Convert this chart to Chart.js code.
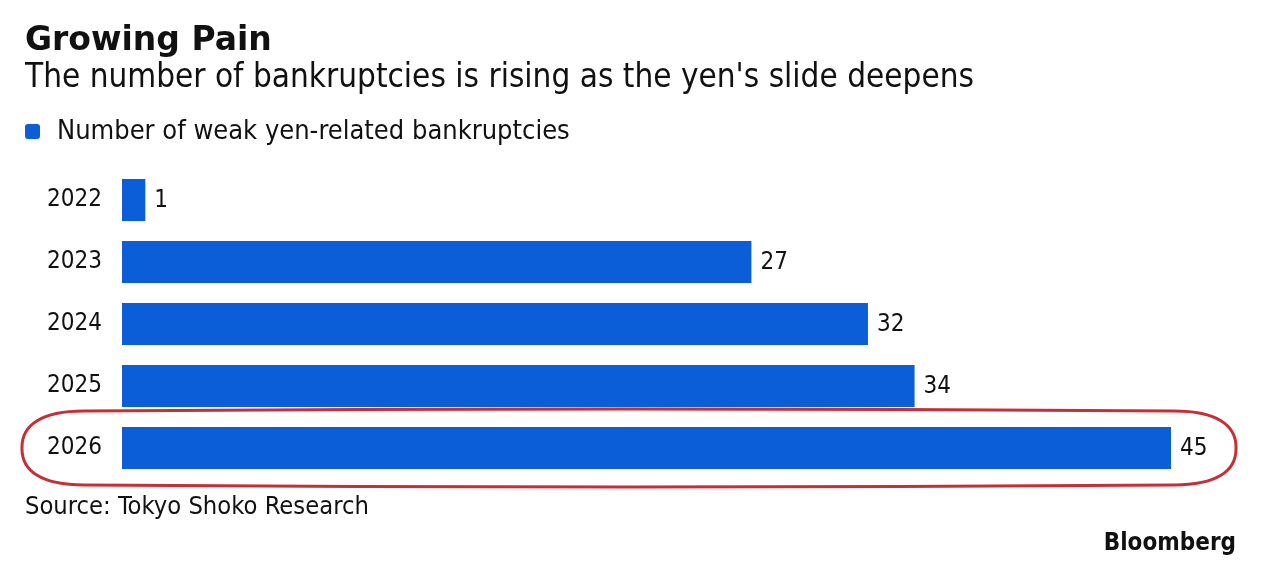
<!DOCTYPE html>
<html>
<head>
<meta charset="utf-8">
<script src="https://cdn.jsdelivr.net/npm/chart.js@4/dist/chart.umd.min.js"></script>
<style>
  body { margin: 0; background: #fff; }
  .wrap { position: relative; width: 1280px; height: 573px; font-family: "DejaVu Sans Condensed", "DejaVu Sans", sans-serif; color: #111; }
  .wrap canvas { position: absolute; left: 0; top: 0; }
  .title { position: absolute; left: 25px; top: 19px; font-size: 33px; font-weight: bold; font-family: "DejaVu Sans", sans-serif; }
  .subtitle { position: absolute; left: 25px; top: 56px; font-size: 33px; }
  .legend { position: absolute; left: 25px; top: 114px; font-size: 27px; }
  .legend i { display: inline-block; width: 15px; height: 15px; background: #0b5ed7; border-radius: 3px; margin-right: 17px; vertical-align: 0px; }
  .source { position: absolute; left: 25px; top: 491px; font-size: 25.3px; }
  .brand { position: absolute; right: 44px; top: 528px; font-size: 24px; font-weight: bold; }
</style>
</head>
<body>
<div class="wrap">
  <canvas id="chart"></canvas>
  <div class="title">Growing Pain</div>
  <div class="subtitle">The number of bankruptcies is rising as the yen's slide deepens</div>
  <div class="legend"><i></i>Number of weak yen-related bankruptcies</div>
  <div class="source">Source: Tokyo Shoko Research</div>
  <div class="brand">Bloomberg</div>
</div>
<script>
// Chart data
const years = ["2022", "2023", "2024", "2025", "2026"];
const bankruptcies = [1, 27, 32, 34, 45];
const seriesLabel = "Number of weak yen-related bankruptcies";
const barColor = "#0b5ed7";
const fontFamily = '"DejaVu Sans Condensed", "DejaVu Sans", sans-serif';

// Value labels at the end of each bar
const valueLabels = {
  id: "valueLabels",
  afterDatasetsDraw(chart) {
    const ctx = chart.ctx;
    const meta = chart.getDatasetMeta(0);
    ctx.save();
    ctx.font = "24px " + fontFamily;
    ctx.fillStyle = "#111";
    ctx.textBaseline = "middle";
    meta.data.forEach((bar, i) => {
      ctx.fillText(String(bankruptcies[i]), bar.x + 9, bar.y + 1);
    });
    ctx.restore();
  }
};

// Red ring round the last year
const highlight = {
  id: "highlight",
  afterDraw(chart) {
    const ctx = chart.ctx;
    const meta = chart.getDatasetMeta(0);
    const bar = meta.data[meta.data.length - 1];
    const left = 22, right = 1236, top = bar.y - 37, bottom = bar.y + 37;
    const rx = 62, ry = 36;
    ctx.save();
    ctx.strokeStyle = "#c62f36";
    ctx.lineWidth = 3;
    ctx.beginPath();
    ctx.moveTo(left + rx, top);
    ctx.quadraticCurveTo((left + right) / 2, top - 4, right - rx, top);
    ctx.bezierCurveTo(right - rx * 0.3, top, right, top + ry * 0.4, right, top + ry);
    ctx.lineTo(right, bottom - ry);
    ctx.bezierCurveTo(right, bottom - ry * 0.4, right - rx * 0.3, bottom, right - rx, bottom);
    ctx.quadraticCurveTo((left + right) / 2, bottom + 4, left + rx, bottom);
    ctx.bezierCurveTo(left + rx * 0.3, bottom, left, bottom - ry * 0.4, left, bottom - ry);
    ctx.lineTo(left, top + ry);
    ctx.bezierCurveTo(left, top + ry * 0.4, left + rx * 0.3, top, left + rx, top);
    ctx.closePath();
    ctx.stroke();
    ctx.restore();
  }
};

new Chart(document.getElementById("chart"), {
  type: "bar",
  data: {
    labels: years,
    datasets: [{
      label: seriesLabel,
      data: bankruptcies,
      backgroundColor: barColor,
      borderWidth: 0,
      categoryPercentage: 0.68,
      barPercentage: 1
    }]
  },
  options: {
    indexAxis: "y",
    responsive: true,
    maintainAspectRatio: false,
    animation: false,
    layout: { padding: { left: 0, right: 109, top: 169, bottom: 94 } },
    plugins: {
      legend: { display: false },
      tooltip: { enabled: false }
    },
    scales: {
      x: { display: false, min: 0, max: 45 },
      y: {
        grid: { display: false, drawTicks: false },
        border: { display: false },
        ticks: { padding: 20, color: "#111", font: { family: fontFamily, size: 24 } },
        afterFit(scale) { scale.width = 122; }
      }
    }
  },
  plugins: [valueLabels, highlight]
});
</script>
</body>
</html>
